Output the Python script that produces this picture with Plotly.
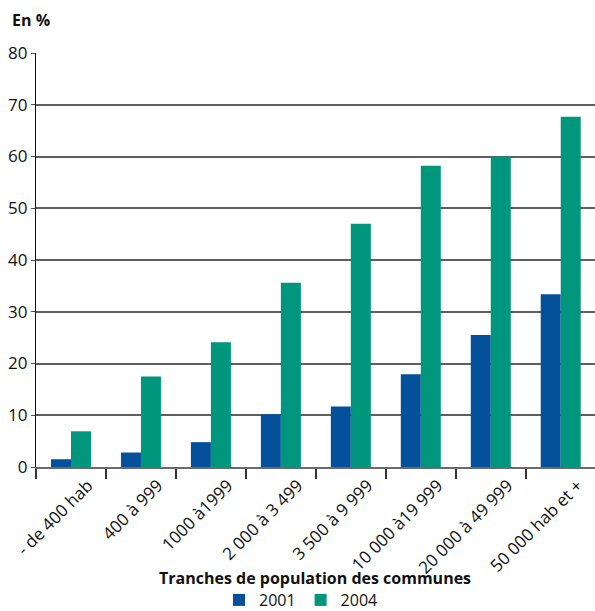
import plotly.graph_objects as go

# Share of communes per population bracket, in percent
categories = ["- de 400 hab", "400 à 999", "1000 à1999", "2 000 à 3 499",
              "3 500 à 9 999", "10 000 à19 999", "20 000 à 49 999", "50 000 hab et +"]
values_2001 = [1.5, 2.8, 4.8, 10.2, 11.7, 17.9, 25.5, 33.4]
values_2004 = [6.9, 17.5, 24.1, 35.6, 47.0, 58.2, 60.0, 67.7]
y_ticks = [0, 10, 20, 30, 40, 50, 60, 70, 80]

BLUE = "#05509B"
TEAL = "#00967D"
FONT = "Open Sans"

fig = go.Figure()
fig.add_trace(go.Bar(name="2001", x=categories, y=values_2001, marker_color=BLUE,
                     marker_line_width=0))
fig.add_trace(go.Bar(name="2004", x=categories, y=values_2004, marker_color=TEAL,
                     marker_line_width=0))

fig.update_layout(
    width=595, height=611,
    margin=dict(l=36, r=0, t=53, b=144, autoexpand=False),
    barmode="group", bargap=0.4286, bargroupgap=0,
    plot_bgcolor="white", paper_bgcolor="white",
    font=dict(family=FONT, size=17, color="#111111"),
    showlegend=True,
    legend=dict(orientation="h", x=(301 - 36) / 559, xanchor="center", xref="paper",
                y=-(600 - 467) / 414, yanchor="middle", font=dict(size=16),
                itemwidth=30, tracegroupgap=0),
    xaxis=dict(
        range=[-0.5, 7.49],
        tickangle=-45, automargin=False,
        tickfont=dict(size=17), ticklabelshift=17,
        ticks="outside", ticklen=10, tickcolor="#333333", tickwidth=1.5,
        tickson="boundaries",
        showline=True, linecolor="#6b6b6b", linewidth=2,
        showgrid=False,
    ),
    yaxis=dict(
        range=[0, 80], tickvals=y_ticks, automargin=False,
        ticks="outside", ticklen=4, tickcolor="#555555",
        showline=True, linecolor="#111111", linewidth=1.2,
        showgrid=True, gridcolor="#5f5f5f", gridwidth=1.6,
        zeroline=False,
    ),
    annotations=[
        dict(text="<b>En %</b>", xref="paper", yref="paper",
             x=-26 / 559, y=1, xanchor="left", yanchor="bottom",
             yshift=20, showarrow=False, font=dict(size=16)),
        dict(text="<b>Tranches de population des communes</b>", xref="paper", yref="paper",
             x=(315 - 36) / 559, y=0, xanchor="center", yanchor="middle",
             yshift=-(578 - 467), showarrow=False, font=dict(size=16)),
    ],
)

fig.write_html("out.html")
